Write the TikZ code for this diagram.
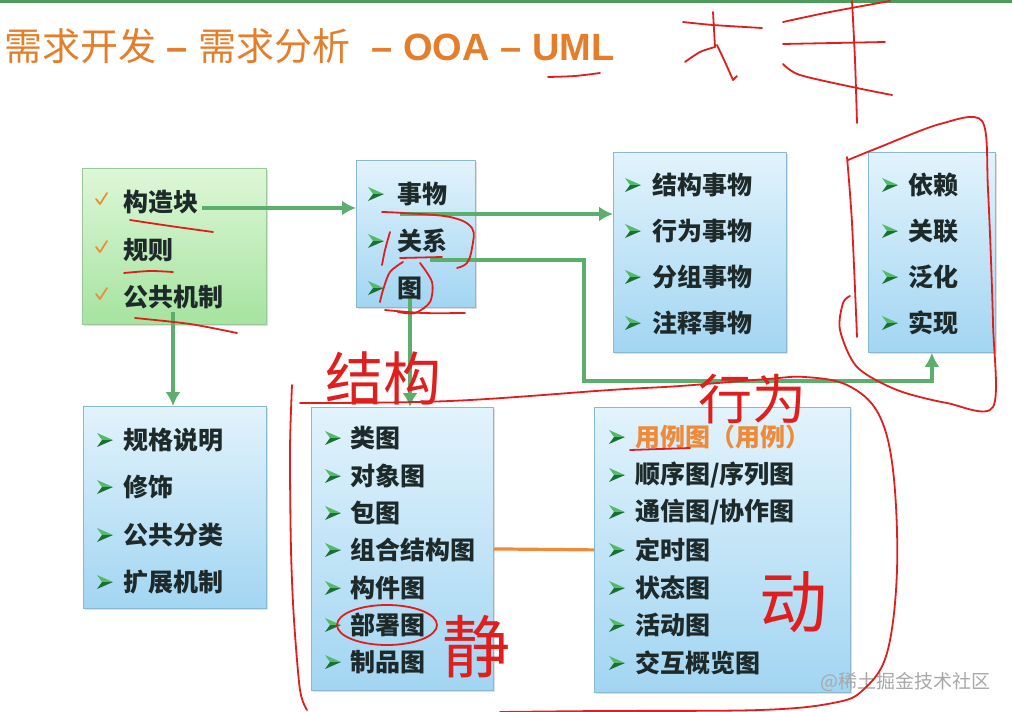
\documentclass[tikz,border=0pt]{standalone}
\usepackage{fontspec}
\setmainfont{Liberation Sans}
\newfontfamily\cjk{Noto Sans CJK SC}
\usetikzlibrary{arrows.meta,shadows}
\definecolor{ttl}{HTML}{E57E2A}
\definecolor{txt}{HTML}{1E2A2A}
\definecolor{gline}{HTML}{5BAE6C}
\definecolor{topline}{HTML}{4D9C5B}
\definecolor{bxtop}{HTML}{E2F3FC}
\definecolor{bxbot}{HTML}{A2D5F2}
\definecolor{gntop}{HTML}{DDF7D7}
\definecolor{gnbot}{HTML}{A6E3A0}
\definecolor{bxedge}{HTML}{88B8D2}
\definecolor{gnedge}{HTML}{98C898}
\definecolor{hred}{HTML}{E01E1E}
\definecolor{bulL}{HTML}{55B86A}
\definecolor{bulD}{HTML}{1A7033}
\definecolor{chk}{HTML}{E8913A}
\definecolor{oline}{HTML}{EE8A3A}
\definecolor{wmark}{HTML}{A8A8A8}
\begin{document}
\begin{tikzpicture}[x=1pt,y=-1pt,
  box/.style={draw=bxedge, line width=0.8pt, top color=bxtop, bottom color=bxbot,
    drop shadow={opacity=0.25,shadow xshift=2pt,shadow yshift=-2pt},
    anchor=north west, inner sep=0pt},
  gbox/.style={box, draw=gnedge, top color=gntop, bottom color=gnbot},
  item/.style={anchor=west, inner sep=0pt, text=txt, font=\cjk\bfseries\fontsize{25}{25}\selectfont},
  oitem/.style={item, text=oline},
  conn/.style={draw=gline, line width=3.4pt, -{Latex[length=14pt,width=15pt]}},
  hand/.style={draw=hred, line width=1.8pt, line cap=round, line join=round},
  htext/.style={text=hred, font=\cjk\fontsize{#1}{#1}\selectfont, inner sep=0pt},
  bul/.pic={\fill[bulL] (-8,-7) -- (8,0) -- (-3,0) -- cycle;
            \fill[bulD] (-8,7) -- (8,0) -- (-3,0) -- cycle;},
  chkm/.pic={\draw[chk,line width=1.8pt,line cap=round,line join=round] (-5,-1) -- (-1,4) -- (6,-7);}
]
\useasboundingbox (0,0) rectangle (1012,712);
\fill[white] (0,0) rectangle (1012,712);
\fill[topline] (0,0) rectangle (1012,2.5);

% title
\node[anchor=base west, inner sep=0pt, text=ttl] (title) at (4,60)
  {\fontsize{38}{38}\selectfont{\cjk 需求开发}\textbf{ – }{\cjk 需求分析}\textbf{\ \ – OOA – UML}};

% boxes
\node[gbox, minimum width=184pt, minimum height=156pt] (b1) at (82,168) {};
\node[box, minimum width=119pt, minimum height=147pt] (b2) at (356,160) {};
\node[box, minimum width=173pt, minimum height=200pt] (b3) at (613,152) {};
\node[box, minimum width=127pt, minimum height=200pt] (b4) at (868,152) {};
\node[box, minimum width=183pt, minimum height=202pt] (b5) at (83,406) {};
\node[box, minimum width=182pt, minimum height=283pt] (b6) at (311,407) {};
\node[box, minimum width=256pt, minimum height=285pt] (b7) at (594,407) {};

% connectors
\coordinate (c1) at (202,208);
\coordinate (c2) at (400,214);
\coordinate (c3) at (430,260);
\coordinate (k1) at (584,381);
\coordinate (c4) at (410,298);
\coordinate (c5) at (173,312);
\draw[conn] (c1) -- (c1 -| b2.west);
\draw[conn] (c2) -- (c2 -| b3.west);
\draw[conn] (c3) -| (k1) -| (b4.south);
\draw[conn] (c4) -- (c4 |- b6.north);
\draw[conn] (c5) -- (c5 |- b5.north);
\draw[draw=oline, line width=3.2pt] (b6.east) -- (b7.west);

% box 1
\pic at (101,200) {chkm}; \node[item] (t11) at (123,202) {构造块};
\pic at (101,248) {chkm}; \node[item] (t12) at (123,250) {规则};
\pic at (101,295) {chkm}; \node[item] (t13) at (123,297) {公共机制};
% box 2
\pic at (376,194) {bul}; \node[item] (t21) at (397,194) {事物};
\pic at (376,241) {bul}; \node[item] (t22) at (397,241) {关系};
\pic at (376,288) {bul}; \node[item] (t23) at (397,288) {图};
% box 3
\pic at (633,185) {bul}; \node[item] (t31) at (652,185) {结构事物};
\pic at (633,231) {bul}; \node[item] (t32) at (652,231) {行为事物};
\pic at (633,277) {bul}; \node[item] (t33) at (652,277) {分组事物};
\pic at (633,323) {bul}; \node[item] (t34) at (652,323) {注释事物};
% box 4
\pic at (890,185) {bul}; \node[item] (t41) at (908,185) {依赖};
\pic at (890,231) {bul}; \node[item] (t42) at (908,231) {关联};
\pic at (890,277) {bul}; \node[item] (t43) at (908,277) {泛化};
\pic at (890,323) {bul}; \node[item] (t44) at (908,323) {实现};
% box 5
\pic at (105,440) {bul}; \node[item] (t51) at (123,440) {规格说明};
\pic at (105,487) {bul}; \node[item] (t52) at (123,487) {修饰};
\pic at (105,535) {bul}; \node[item] (t53) at (123,535) {公共分类};
\pic at (105,582) {bul}; \node[item] (t54) at (123,582) {扩展机制};
% box 6
\pic at (333,438) {bul}; \node[item] (t61) at (350,438) {类图};
\pic at (333,476) {bul}; \node[item] (t62) at (350,476) {对象图};
\pic at (333,513) {bul}; \node[item] (t63) at (350,513) {包图};
\pic at (333,550) {bul}; \node[item] (t64) at (350,550) {组合结构图};
\pic at (333,588) {bul}; \node[item] (t65) at (350,588) {构件图};
\pic at (333,625) {bul}; \node[item] (t66) at (350,625) {部署图};
\pic at (333,662) {bul}; \node[item] (t67) at (350,662) {制品图};
% box 7
\pic at (617,437) {bul}; \node[oitem] (t71) at (635,437) {用例图（用例）};
\pic at (617,475) {bul}; \node[item] (t72) at (635,475) {顺序图/序列图};
\pic at (617,512) {bul}; \node[item] (t73) at (635,512) {通信图/协作图};
\pic at (617,550) {bul}; \node[item] (t74) at (635,550) {定时图};
\pic at (617,588) {bul}; \node[item] (t75) at (635,588) {状态图};
\pic at (617,625) {bul}; \node[item] (t76) at (635,625) {活动图};
\pic at (617,663) {bul}; \node[item] (t77) at (635,663) {交互概览图};

% watermark
\node[anchor=east, inner sep=0pt, text=wmark, font=\cjk\fontsize{19}{19}\selectfont] (wm) at (991,682) {@稀土掘金技术社区};

% handwritten annotations
\draw[hand] plot[smooth] coordinates {(548,77) (575,76) (600,73)};
\draw[hand] plot[smooth] coordinates {(683,22) (713,25) (762,28)};
\draw[hand] (713,12) -- (715,47);
\draw[hand] plot[smooth] coordinates {(715,47) (700,52) (685,62)};
\draw[hand] plot[smooth] coordinates {(717,45) (725,62) (733,80)} -- (737,76);
\draw[hand] plot[smooth] coordinates {(783,22) (830,12) (890,1)};
\draw[hand] (783,44) -- (885,42);
\draw[hand] plot[smooth] coordinates {(783,64) (800,75) (857,88) (892,95)};
\draw[hand] plot[smooth] coordinates {(852,1) (855,60) (857,123)};
\draw[hand] plot[smooth,tension=0.5] coordinates {(848,160) (880,147) (940,124) (982,121) (988,190) (993,323) (993,407) (947,403) (897,390) (857,367) (840,330) (843,303) (850,296)};
\draw[hand] plot[smooth] coordinates {(847,157) (852,223) (857,337)};

\draw[hand] plot[smooth] coordinates {(130,220) (170,226) (213,232)};
\draw[hand] plot[smooth] coordinates {(124,273) (150,271) (173,272)};
\draw[hand] plot[smooth] coordinates {(135,318) (190,324) (237,333)};

\draw[hand] plot[smooth,tension=0.6] coordinates {(382,212) (403,213) (450,217) (472,228) (472,248) (467,263) (457,268)};
\draw[hand] plot[smooth] coordinates {(390,232) (385,250) (382,265)};
\draw[hand] (400,258) -- (442,257);
\draw[hand] plot[smooth] coordinates {(403,262) (390,272) (383,290) (380,302)};
\draw[hand] plot[smooth] coordinates {(420,263) (432,282) (430,302) (415,313) (398,312)};
\draw[hand] plot[smooth] coordinates {(385,310) (423,313) (465,313)};

\draw[hand] plot[smooth] coordinates {(292,385) (290,450) (291,550) (294,620) (300,690) (307,710)};
\draw[hand] plot[smooth,tension=0.6] coordinates {(300,403) (450,401) (610,390) (680,386) (767,379) (805,377) (847,385) (878,413) (893,470) (897,570) (887,653) (863,690) (833,703) (760,710) (600,711) (500,712)};
\draw[hand] (387,625) ellipse [x radius=50, y radius=20];
\draw[hand] (630,450) -- (690,448);

\node[htext=58] (h1) at (383,378) {结构};
\node[htext=54] (h2) at (752,399) {行为};
\node[htext=68] (h3) at (476,647) {静};
\node[htext=68] (h4) at (793,602) {动};
\end{tikzpicture}
\end{document}
